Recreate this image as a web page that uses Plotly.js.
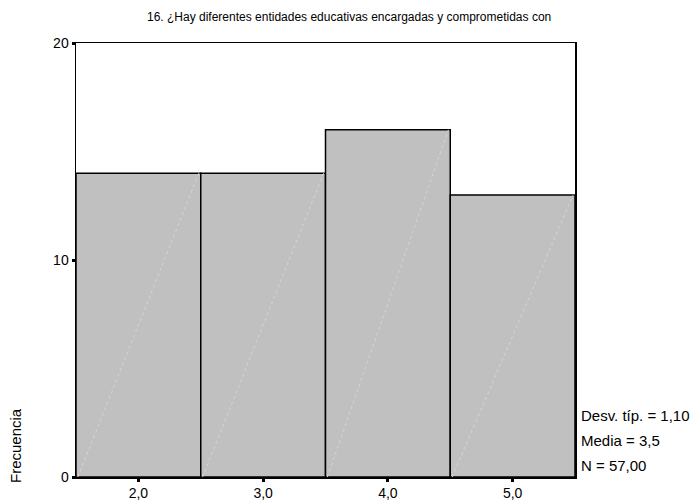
<!DOCTYPE html>
<html>
<head>
<meta charset="utf-8">
<script src="https://cdn.plot.ly/plotly-3.0.1.min.js"></script>
<style>html,body{margin:0;padding:0;background:#fff;}#chart{width:693px;height:503px;}</style>
</head>
<body>
<div id="chart"></div>
<script>
const binCenters = [2, 3, 4, 5];
const frequencies = [14, 14, 16, 13];
const xTickVals = [2, 3, 4, 5];
const yTickVals = [0, 10, 20];
const chartTitle = "16. ¿Hay diferentes entidades educativas encargadas y comprometidas con";
const yTitle = "Frecuencia";
const statsLines = ["Desv. típ. = 1,10", "Media = 3,5", "N = 57,00"];

const W = 693, H = 503;
const m = {l: 76, r: 118, t: 43, b: 26};
const pw = W - m.l - m.r, ph = H - m.t - m.b;
const font = "Liberation Sans, Arial, sans-serif";

const traces = [{
  type: 'bar', x: binCenters, y: frequencies, width: 1,
  marker: {color: '#c0c0c0', line: {color: '#000', width: 1.5}},
  hoverinfo: 'x+y', showlegend: false
}];
// faint diagonal hatch line inside each bar (bottom-left to top-right)
binCenters.forEach((c, i) => {
  traces.push({
    type: 'scatter', mode: 'lines', x: [c - 0.5 + 0.015, c + 0.5 - 0.015], y: [0, frequencies[i]],
    line: {color: '#d6d6d6', width: 1, dash: 'dot'}, hoverinfo: 'skip', showlegend: false
  });
});

const annotations = [{
  xref: 'paper', yref: 'paper', x: (15 - m.l) / pw, y: (H - m.b - 446) / ph,
  text: yTitle, textangle: -90, showarrow: false,
  font: {family: font, size: 15, color: '#000'}, xanchor: 'center', yanchor: 'middle'
}];
statsLines.forEach((t, i) => {
  annotations.push({
    xref: 'paper', yref: 'paper', x: (579 - m.l) / pw, y: (H - m.b - (415 + 25 * i)) / ph,
    text: t, showarrow: false, xanchor: 'left', yanchor: 'middle',
    font: {family: font, size: 15, color: '#000'}
  });
});

const layout = {
  width: W, height: H, margin: m,
  paper_bgcolor: '#fff', plot_bgcolor: '#fff',
  separators: ',.',
  showlegend: false,
  title: {text: chartTitle, x: 147 / W, xanchor: 'left', y: 1 - 17 / H, yanchor: 'middle',
          font: {family: font, size: 12, color: '#000'}},
  xaxis: {range: [1.5, 5.5], tickvals: xTickVals, tickformat: '.1f',
          showline: true, mirror: true, linecolor: '#000', linewidth: 1.5,
          ticks: 'outside', ticklen: 3, tickwidth: 3, tickcolor: '#000',
          showgrid: false, zeroline: false,
          tickfont: {family: font, size: 14, color: '#000'}},
  yaxis: {range: [0, 20], tickvals: yTickVals,
          showline: true, mirror: true, linecolor: '#000', linewidth: 1.5,
          ticks: 'outside', ticklen: 3, tickwidth: 3, tickcolor: '#000',
          showgrid: false, zeroline: false,
          tickfont: {family: font, size: 14, color: '#000'}},
  annotations: annotations
};

Plotly.newPlot('chart', traces, layout, {staticPlot: true, displayModeBar: false});
</script>
</body>
</html>
